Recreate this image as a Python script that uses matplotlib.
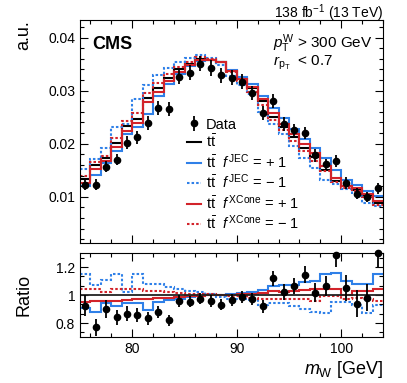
import matplotlib
matplotlib.use('Agg')
import matplotlib.pyplot as plt
import numpy as np
from matplotlib.lines import Line2D
from matplotlib.ticker import MultipleLocator, AutoMinorLocator, FuncFormatter

plt.rcParams['font.family'] = ['Liberation Sans', 'DejaVu Sans']
plt.rcParams['mathtext.fontset'] = 'custom'
plt.rcParams['mathtext.rm'] = 'Liberation Sans'
plt.rcParams['mathtext.it'] = 'Liberation Sans:italic'
plt.rcParams['mathtext.bf'] = 'Liberation Sans:bold'

# m_W bins (GeV)
edges = np.arange(75, 105)
centers = edges[:-1] + 0.5

data = [0.0123, 0.0123, 0.0157, 0.0170, 0.0202, 0.0212, 0.0239, 0.0268, 0.0265, 0.0326,
        0.0334, 0.0351, 0.0342, 0.0329, 0.0324, 0.0317, 0.0295, 0.0258, 0.0281, 0.0237,
        0.0226, 0.0220, 0.0178, 0.0161, 0.0167, 0.0126, 0.0106, 0.0100, 0.0116]
data_err = [0.0010, 0.0010, 0.0011, 0.0011, 0.0012, 0.0012, 0.0013, 0.0013, 0.0013, 0.0014,
            0.0014, 0.0015, 0.0015, 0.0014, 0.0014, 0.0014, 0.0013, 0.0013, 0.0013, 0.0013,
            0.0012, 0.0012, 0.0012, 0.0011, 0.0011, 0.0011, 0.0011, 0.0010, 0.0010]
ttbar = [0.0133, 0.0160, 0.0174, 0.0202, 0.0233, 0.0247, 0.0287, 0.0305, 0.0324, 0.0340,
         0.0351, 0.0360, 0.0357, 0.0353, 0.0336, 0.0321, 0.0304, 0.0280, 0.0251, 0.0232,
         0.0212, 0.0192, 0.0175, 0.0151, 0.0130, 0.0120, 0.0113, 0.0102, 0.0089]
jec_up = [0.01204, 0.01408, 0.01636, 0.01858, 0.02190, 0.02322, 0.02554, 0.02898, 0.03127, 0.03315,
          0.03457, 0.03564, 0.03570, 0.03530, 0.03394, 0.03258, 0.03116, 0.02898, 0.02673, 0.02482,
          0.02268, 0.02093, 0.01925, 0.01737, 0.01502, 0.01320, 0.01220, 0.01102, 0.01024]
jec_down = [0.01530, 0.01712, 0.01923, 0.02323, 0.02377, 0.02841, 0.03100, 0.03294, 0.03418, 0.03536,
            0.03615, 0.03672, 0.03606, 0.03477, 0.03276, 0.03114, 0.02934, 0.02604, 0.02372, 0.02181,
            0.01950, 0.01728, 0.01540, 0.01321, 0.01235, 0.01140, 0.01051, 0.00887, 0.00828]
xcone_up = [0.01264, 0.01528, 0.01670, 0.01939, 0.02248, 0.02396, 0.02784, 0.02974, 0.03175, 0.03349,
            0.03475, 0.03582, 0.03570, 0.03530, 0.03360, 0.03226, 0.03070, 0.02842, 0.02573, 0.02378,
            0.02184, 0.01987, 0.01820, 0.01578, 0.01359, 0.01200, 0.01164, 0.01046, 0.00930]
xcone_down = [0.01390, 0.01664, 0.01775, 0.02111, 0.02435, 0.02581, 0.02956, 0.03142, 0.03305, 0.03451,
              0.03545, 0.03636, 0.03588, 0.03530, 0.03343, 0.03178, 0.02979, 0.02730, 0.02447, 0.02262,
              0.02056, 0.01862, 0.01680, 0.01495, 0.01287, 0.01164, 0.01107, 0.00989, 0.00854]

blue = '#2f80e8'
red = '#d2232a'
dot = (0, (1.2, 1.0))
minus = '\u2212'

ttbar_a = np.array(ttbar)

fig = plt.figure(figsize=(4.07, 3.83), dpi=100)
ax = fig.add_axes([0.1966, 0.3655, 0.7445, 0.5823])
rax = fig.add_axes([0.1966, 0.1201, 0.7445, 0.2193])

# main panel
ax.stairs(ttbar, edges, baseline=None, color='k', lw=1.5)
ax.stairs(jec_up, edges, baseline=None, color=blue, lw=1.5)
ax.stairs(jec_down, edges, baseline=None, color=blue, lw=1.5, ls=dot)
ax.stairs(xcone_up, edges, baseline=None, color=red, lw=1.5)
ax.stairs(xcone_down, edges, baseline=None, color=red, lw=1.5, ls=dot)
h_data = ax.errorbar(centers, data, yerr=data_err, fmt='o', color='k', ms=4.5,
                     elinewidth=1.3, capsize=0)

# ratio panel
rax.axhline(1, color='#222222', lw=1.3)
rax.stairs(np.array(jec_up) / ttbar_a, edges, baseline=None, color=blue, lw=1.5)
rax.stairs(np.array(jec_down) / ttbar_a, edges, baseline=None, color=blue, lw=1.5, ls=dot)
rax.stairs(np.array(xcone_up) / ttbar_a, edges, baseline=None, color=red, lw=1.5)
rax.stairs(np.array(xcone_down) / ttbar_a, edges, baseline=None, color=red, lw=1.5, ls=dot)
eb = rax.errorbar(centers, np.array(data) / ttbar_a, yerr=np.array(data_err) / ttbar_a,
                  fmt='o', color='k', ms=4.5, elinewidth=1.3, capsize=0)
eb[0].set_clip_on(False)

for a in (ax, rax):
    a.set_xlim(75, 104)
    a.xaxis.set_major_locator(MultipleLocator(10))
    a.xaxis.set_minor_locator(MultipleLocator(2))
    a.tick_params(which='both', direction='in', top=True, right=True, labelsize=10)
    a.tick_params(which='major', length=6, width=0.8)
    a.tick_params(which='minor', length=3, width=0.8)

ax.set_ylim(0.0013, 0.0433)
ax.yaxis.set_major_locator(MultipleLocator(0.01))
ax.yaxis.set_minor_locator(MultipleLocator(0.002))
ax.tick_params(labelbottom=False)

rax.set_ylim(0.7, 1.3)
rax.yaxis.set_major_locator(MultipleLocator(0.2))
rax.yaxis.set_minor_locator(AutoMinorLocator(3))
rax.yaxis.set_major_formatter(FuncFormatter(lambda v, p: '%g' % round(v, 2)))

ax.set_ylabel('a.u.', fontsize=13, loc='top')
ax.yaxis.set_label_coords(-0.158, 1.0)
rax.set_ylabel('Ratio', fontsize=13)
rax.yaxis.set_label_coords(-0.158, 0.5)
rax.set_xlabel(r'$m_{\mathrm{W}}$ [GeV]', fontsize=13, loc='right', labelpad=2)

ax.text(0.04, 0.892, 'CMS', transform=ax.transAxes, fontsize=13, fontweight='bold',
        va='center', ha='left')
ax.text(1.0, 1.031, r'138 fb$^{-1}$ (13 TeV)', transform=ax.transAxes, fontsize=10,
        va='center', ha='right')
ax.text(0.637, 0.892, r'$p_{\mathrm{T}}^{\mathrm{W}}$ > 300 GeV', transform=ax.transAxes,
        fontsize=11, va='center', ha='left')
ax.text(0.637, 0.807, r'$r_{\mathrm{p_{T}}}$  < 0.7', transform=ax.transAxes,
        fontsize=11, va='center', ha='left')

tt = r'$\mathrm{t\bar{t}}$'
labels = ['Data', tt,
          tt + r'  $f^{\,\mathrm{JEC}}$' + ' = + 1',
          tt + r'  $f^{\,\mathrm{JEC}}$' + ' = ' + minus + ' 1',
          tt + r'  $f^{\,\mathrm{XCone}}$' + ' = + 1',
          tt + r'  $f^{\,\mathrm{XCone}}$' + ' = ' + minus + ' 1']
proxies = [h_data,
           Line2D([], [], color='k', lw=1.5),
           Line2D([], [], color=blue, lw=1.5),
           Line2D([], [], color=blue, lw=1.5, ls=dot),
           Line2D([], [], color=red, lw=1.5),
           Line2D([], [], color=red, lw=1.5, ls=dot)]
ax.legend(proxies, labels, loc='upper left', bbox_to_anchor=(0.459, 0.693),
          bbox_transform=fig.transFigure, frameon=False, fontsize=10.5,
          handlelength=1.0, handletextpad=0.3, borderpad=0, borderaxespad=0,
          labelspacing=0.14)

fig.savefig('out.png', dpi=100)
